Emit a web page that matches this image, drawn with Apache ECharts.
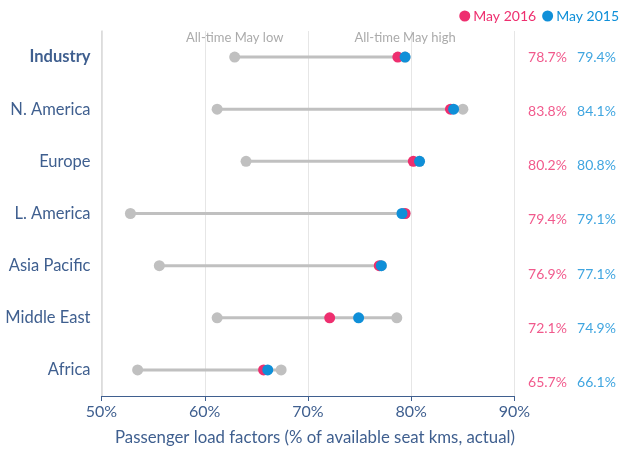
<!DOCTYPE html>
<html>
<head>
<meta charset="utf-8">
<script src="https://cdn.jsdelivr.net/npm/echarts@6/dist/echarts.min.js"></script>
<style>html,body{margin:0;padding:0;background:#fff;}#c{width:621px;height:451px;}</style>
</head>
<body>
<div id="c"></div>
<script>
const categories = ['Industry', 'N. America', 'Europe', 'L. America', 'Asia Pacific', 'Middle East', 'Africa'];
const may2016 = [78.7, 83.8, 80.2, 79.4, 76.9, 72.1, 65.7];
const may2015 = [79.4, 84.1, 80.8, 79.1, 77.1, 74.9, 66.1];
const allTimeLow = [62.9, 61.2, 64.0, 52.8, 55.6, 61.2, 53.5];
const allTimeHigh = [79.4, 85.0, 80.8, 79.4, 77.1, 78.6, 67.4];
const xTicks = [50, 60, 70, 80, 90];
const seriesNames = ['May 2016', 'May 2015'];
const annotations = ['All-time May low', 'All-time May high'];
const axisTitle = 'Passenger load factors (% of available seat kms, actual)';

const PINK = '#ee2f6f', BLUE = '#0f8fd8', GRAY = '#c0c0c0', NAVY = '#3f5f8f';
const FONT = 'Lato';

const chart = echarts.init(document.getElementById('c'), null, {renderer: 'canvas'});

const pts = arr => arr.map((v, i) => [v, categories[i]]);

chart.setOption({
  animation: false,
  textStyle: {fontFamily: FONT},
  legend: {
    data: [
      {name: seriesNames[0], textStyle: {color: PINK}},
      {name: seriesNames[1], textStyle: {color: BLUE}}
    ],
    icon: 'circle', itemWidth: 11, itemHeight: 11, itemGap: 6,
    right: 2, top: 9, padding: 0,
    textStyle: {fontFamily: FONT, fontSize: 14, padding: [0, 0, 0, -2]}
  },
  grid: [
    {left: 101.5, right: 106.5, top: 31, bottom: 54},
    {left: 523, width: 98, top: 29.85, height: 380}
  ],
  xAxis: [
    {
      type: 'value', gridIndex: 0, min: xTicks[0], max: xTicks[xTicks.length - 1], interval: 10,
      axisLine: {show: true, lineStyle: {color: NAVY, width: 1.2}},
      axisTick: {show: true, length: 5, lineStyle: {color: NAVY}},
      axisLabel: {formatter: '{value}%', color: NAVY, fontSize: 16, margin: 8, fontFamily: FONT},
      splitLine: {show: true, lineStyle: {color: '#e6e6e6', width: 1}},
      name: axisTitle, nameLocation: 'middle', nameGap: 33,
      nameTextStyle: {color: NAVY, fontSize: 16.8, fontFamily: FONT, padding: [0, 0, 0, 14]}
    },
    {
      type: 'category', gridIndex: 1, data: seriesNames, show: false
    }
  ],
  yAxis: [
    {
      type: 'category', gridIndex: 0, data: categories, inverse: true,
      axisLine: {show: true, lineStyle: {color: '#d9d9d9', width: 1.5}},
      axisTick: {show: false},
      splitLine: {show: false},
      axisLabel: {
        color: NAVY, fontSize: 16.5, margin: 11, fontFamily: FONT,
        formatter: (v, i) => i === 0 ? '{b|' + v + '}' : v,
        rich: {b: {fontWeight: 'bold', color: NAVY, fontSize: 16.5, fontFamily: FONT}}
      }
    },
    {
      type: 'category', gridIndex: 1, data: categories, inverse: true, show: false
    }
  ],
  series: [
    {
      type: 'custom', name: 'range', xAxisIndex: 0, yAxisIndex: 0,
      data: allTimeLow.map((v, i) => [v, allTimeHigh[i], i]),
      encode: {x: [0, 1], y: 2},
      renderItem: (params, api) => {
        const a = api.coord([api.value(0), api.value(2)]);
        const b = api.coord([api.value(1), api.value(2)]);
        return {type: 'line', shape: {x1: a[0], y1: a[1], x2: b[0], y2: b[1]},
                style: {stroke: GRAY, lineWidth: 3}};
      },
      silent: true, z: 1
    },
    {
      type: 'scatter', name: 'low', data: pts(allTimeLow), symbolSize: 11,
      itemStyle: {color: GRAY, opacity: 1}, z: 2,
      label: {show: true, position: 'top', distance: 7, color: '#ababab', fontSize: 13, fontFamily: FONT,
              formatter: p => p.dataIndex === 0 ? annotations[0] : ''}
    },
    {
      type: 'scatter', name: 'high', data: pts(allTimeHigh), symbolSize: 11,
      itemStyle: {color: GRAY, opacity: 1}, z: 2,
      label: {show: true, position: 'top', distance: 7, color: '#ababab', fontSize: 13, fontFamily: FONT,
              formatter: p => p.dataIndex === 0 ? annotations[1] : ''}
    },
    {
      type: 'scatter', name: seriesNames[0], data: pts(may2016), symbolSize: 11,
      itemStyle: {color: PINK, opacity: 1}, z: 3
    },
    {
      type: 'scatter', name: seriesNames[1], data: pts(may2015), symbolSize: 11,
      itemStyle: {color: BLUE, opacity: 1}, z: 4
    },
    {
      type: 'scatter', name: 'lbl2016', xAxisIndex: 1, yAxisIndex: 1, symbolSize: 0,
      data: may2016.map((v, i) => [seriesNames[0], categories[i]]),
      label: {show: true, position: 'inside', color: PINK, fontSize: 14, fontFamily: FONT,
              formatter: p => may2016[p.dataIndex].toFixed(1) + '%'},
      silent: true
    },
    {
      type: 'scatter', name: 'lbl2015', xAxisIndex: 1, yAxisIndex: 1, symbolSize: 0,
      data: may2015.map((v, i) => [seriesNames[1], categories[i]]),
      label: {show: true, position: 'inside', color: BLUE, fontSize: 14, fontFamily: FONT,
              formatter: p => may2015[p.dataIndex].toFixed(1) + '%'},
      silent: true
    }
  ]
});
</script>
</body>
</html>
